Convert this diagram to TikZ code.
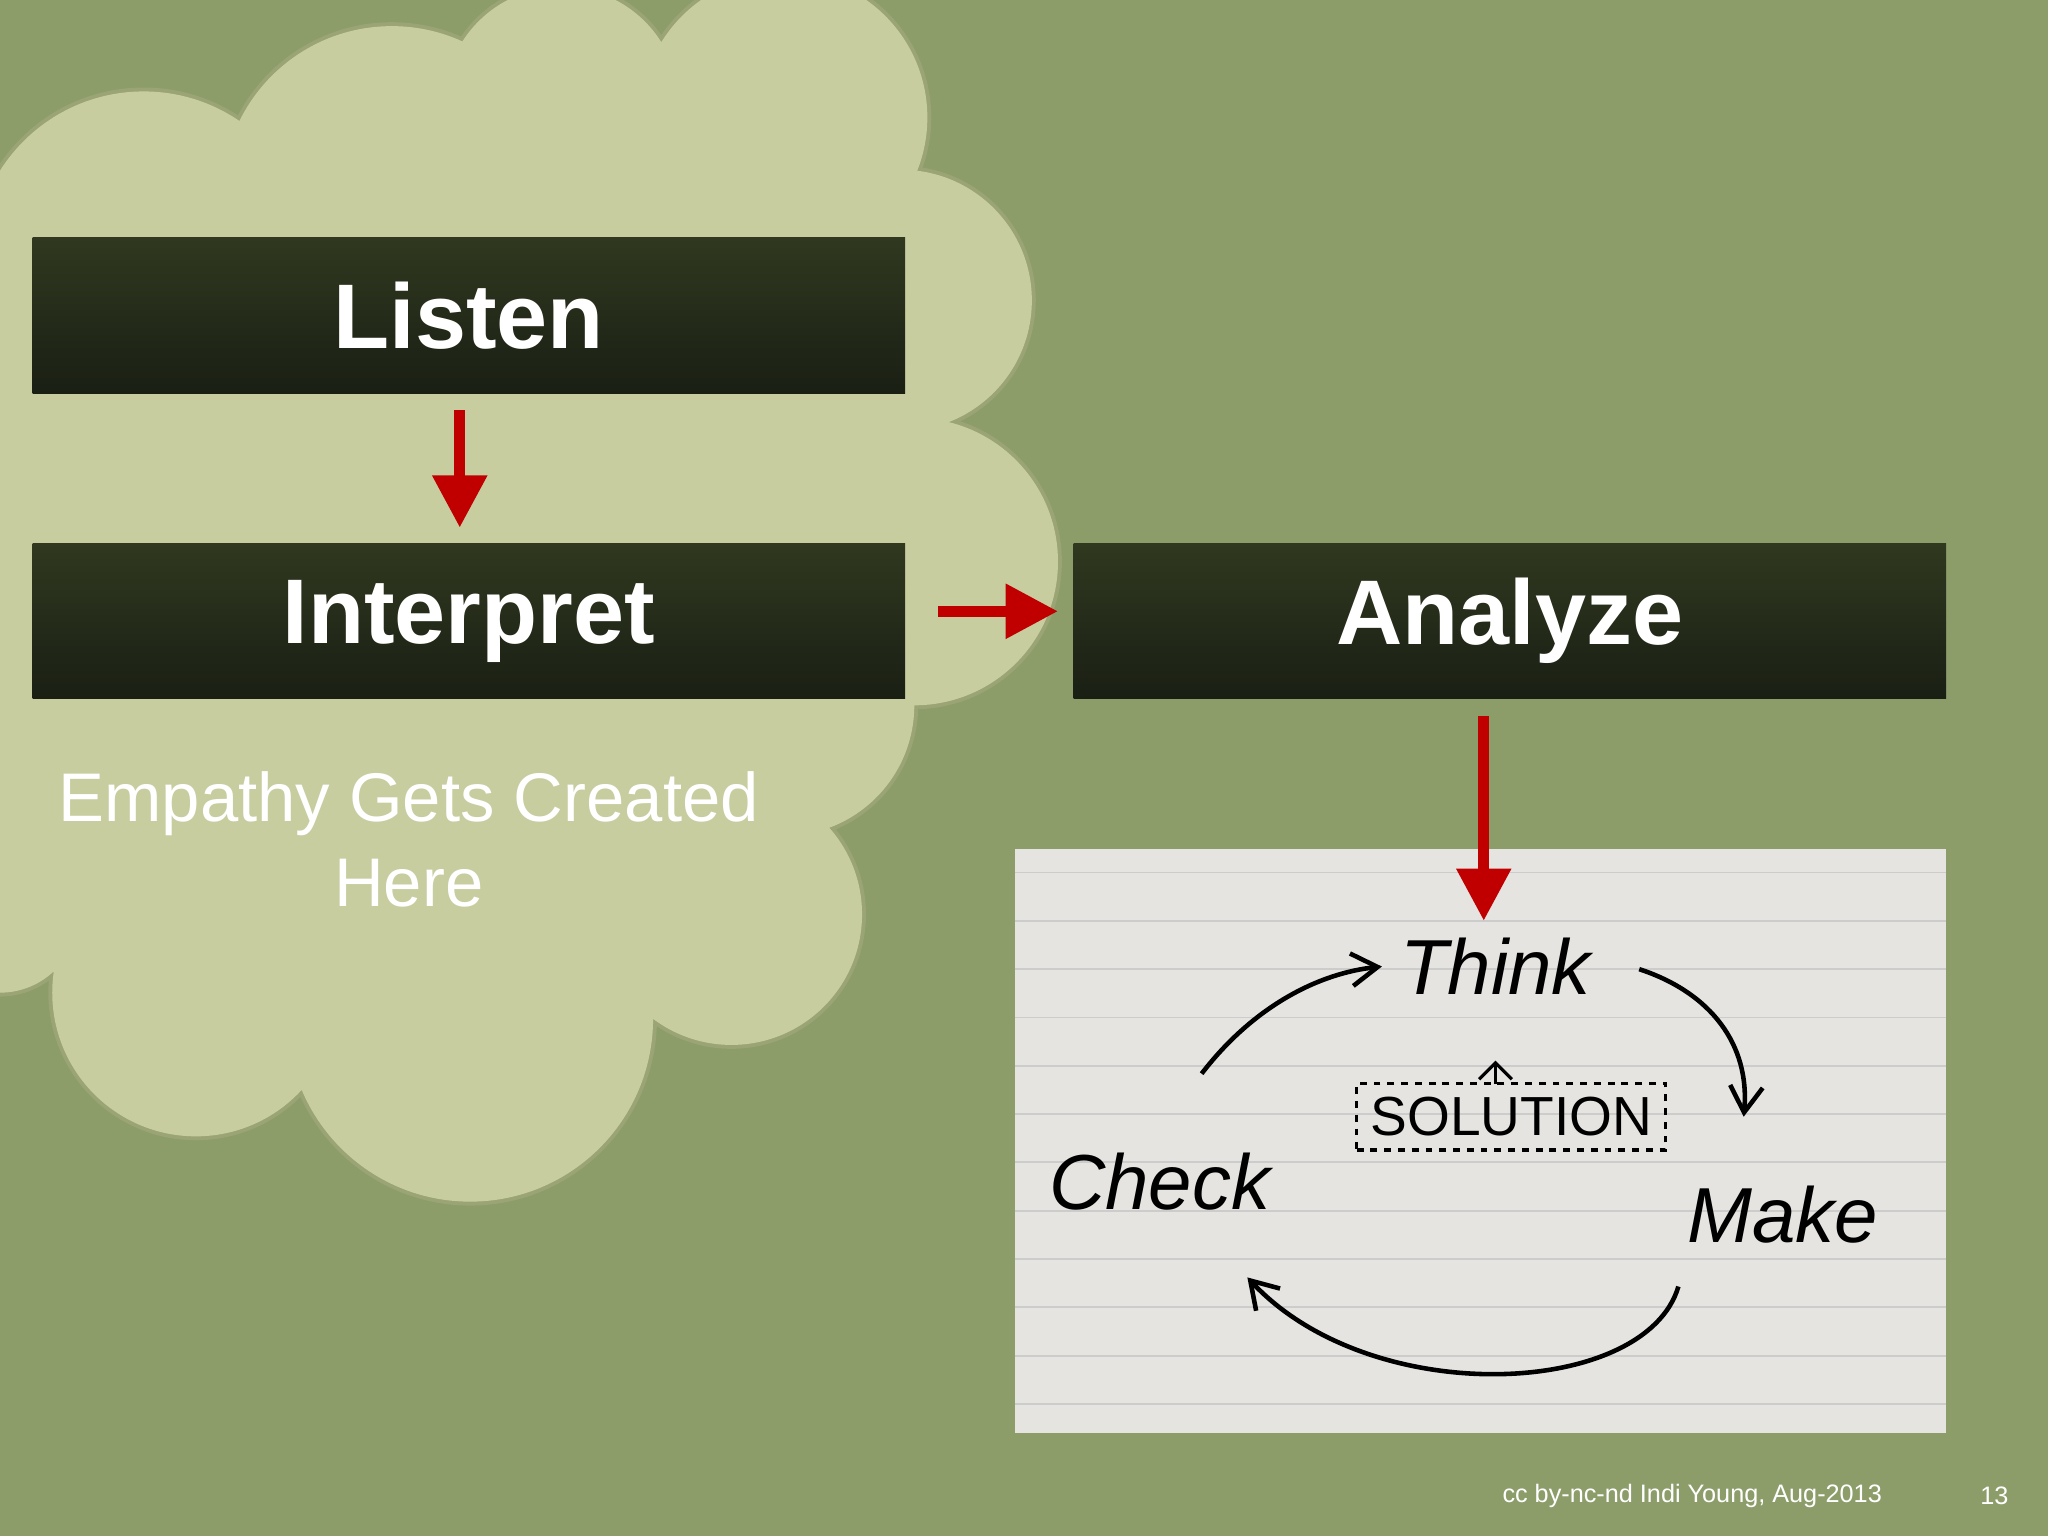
\documentclass[tikz,border=0pt]{standalone}
\usepackage{fontspec}
\setmainfont{Liberation Sans}
\usetikzlibrary{arrows.meta,shadings}
\definecolor{bg}{HTML}{8C9D6A}
\definecolor{cloud}{HTML}{C8CDA0}
\definecolor{cloudline}{HTML}{9AA474}
\definecolor{boxtop}{HTML}{30381F}
\definecolor{boxbot}{HTML}{1A1F14}
\definecolor{ared}{HTML}{C00000}
\definecolor{paper}{HTML}{E6E4E0}
\tikzset{
  stagebox/.style={minimum width=13.36cm,minimum height=2.38cm,top color=boxtop,bottom color=boxbot,
    text=white,font=\fontsize{40}{48}\selectfont\bfseries,inner sep=0pt},
  redarrow/.style={draw=ared,line width=0.17cm,-{Triangle[width=0.8cm,length=0.8cm]}},
  hand/.style={font=\fontsize{34}{40}\selectfont\itshape,text=black},
  pen/.style={draw=black,line width=0.07cm,-{Straight Barb[length=0.4cm,width=0.5cm]}}
}
\begin{document}
\begin{tikzpicture}[x=0.02cm,y=-0.02cm]
\fill[bg] (0,0) rectangle (1568,1176);
\useasboundingbox (0,0) rectangle (1568,1176);
% cloud
\def\cloudcircles{(110,200) circle (130) (300,150) circle (130) (430,80) circle (90) (600,90) circle (110) (690,230) circle (100) (700,430) circle (110) (600,540) circle (100) (560,700) circle (100) (360,780) circle (140) (150,760) circle (110) (40,620) circle (120) (20,400) circle (150) (380,420) circle (310) (210,660) circle (110) (0,700) circle (60)}
\draw[cloudline,line width=0.12cm] \cloudcircles;
\fill[cloud] \cloudcircles;
% boxes
\node[stagebox] (listen) at (359,241.5) {Listen};
\node[stagebox] (interp) at (359,475.5) {Interpret};
\node[stagebox] (analyze) at (1156,475.5) {Analyze};
\node[text=white,font=\fontsize{30}{37}\selectfont,align=center] (emp) at (313,643) {Empathy Gets Created\\Here};
% photo
\fill[paper] (777,650) rectangle (1490,1097);
\foreach \y in {668,705,742,779,816,853,890,927,964,1001,1038,1075}
  \draw[gray!40,line width=0.03cm] (777,\y) -- (1490,\y);
\node[hand] (think) at (1145,740) {Think};
\node[hand] (check) at (888,905) {Check};
\node[hand] (make) at (1365,930) {Make};
\node[draw,dashed,line width=0.05cm,font=\fontsize{24}{28}\selectfont,inner sep=6pt] (sol) at (1157,855) {SOLUTION};
\draw[pen] (920,822) .. controls (960,770) and (1010,745) .. (1058,740);
\draw[pen] (1255,742) .. controls (1310,760) and (1340,800) .. (1335,855);
\draw[pen] (1285,985) .. controls (1260,1070) and (1050,1080) .. (955,978);
\draw[black,line width=0.05cm,-{Straight Barb[length=0.25cm]}] (1145,830) -- (1145,812);
% arrows
\coordinate (a1) at (352,314); \coordinate (a1e) at (352,404);
\draw[redarrow] (a1) -- (a1e);
\coordinate (a2) at (718,468); \coordinate (a2e) at (810,468);
\draw[redarrow] (a2) -- (a2e);
\coordinate (a3) at (1136,548); \coordinate (a3e) at (1136,705);
\draw[redarrow] (a3) -- (a3e);
% footer
\node[anchor=east,text=white,font=\fontsize{11}{13}\selectfont] (foot) at (1447,1145) {cc by-nc-nd Indi Young, Aug-2013};
\node[text=white,font=\fontsize{11}{13}\selectfont] (num) at (1527,1145) {13};
\end{tikzpicture}
\end{document}
